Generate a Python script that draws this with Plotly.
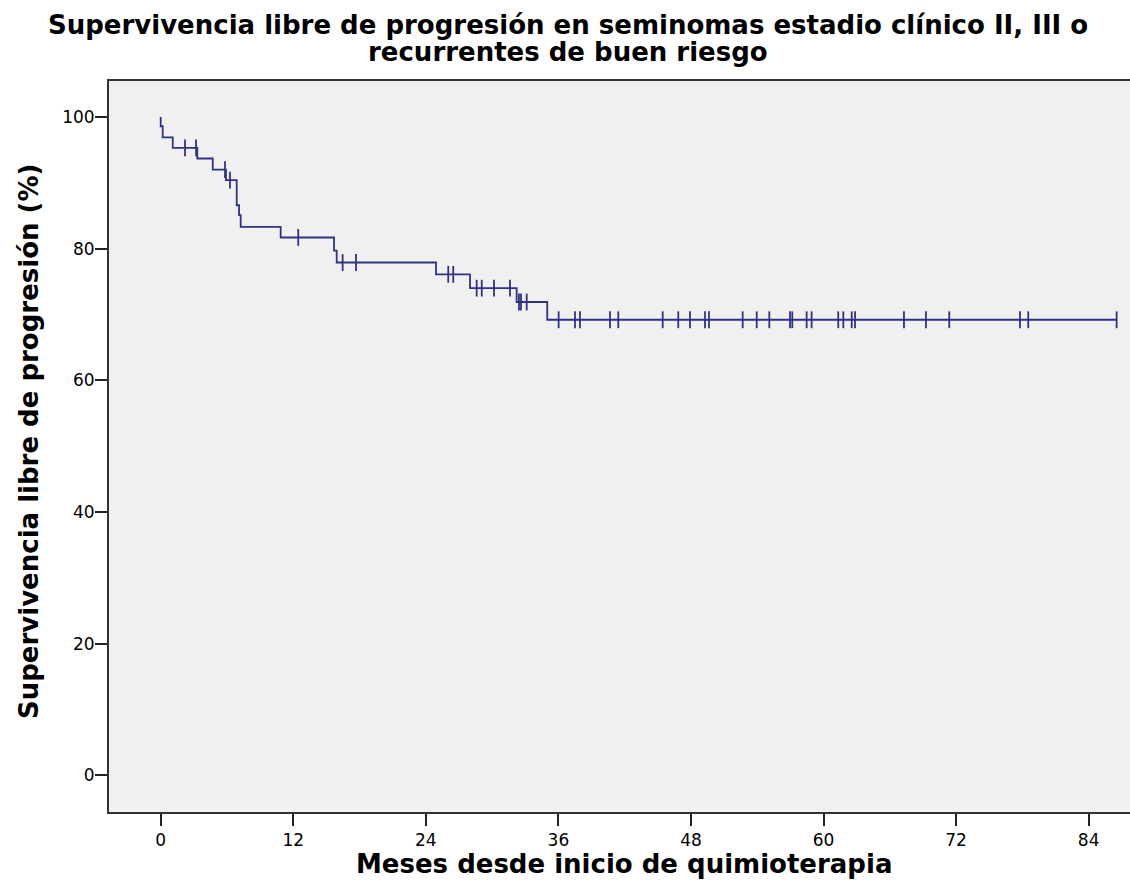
import plotly.graph_objects as go

# Kaplan-Meier step data: months at which an event occurs and survival (%) right after it
event_months = [0.0, 0.18, 1.09, 3.31, 4.71, 5.91, 6.88, 7.09, 7.24, 10.86,
                15.69, 15.93, 24.92, 28.0, 32.22, 34.99]
survival_pct = [98.6, 96.9, 95.3, 93.7, 92.0, 90.4, 86.6, 85.1, 83.3, 81.7,
                79.7, 77.9, 76.1, 74.0, 71.9, 69.2]

# Censored observations (months)
censored_months = [2.2, 3.2, 5.82, 6.27, 12.45, 16.47, 17.68, 26.03, 26.48,
                   28.6, 29.06, 30.17, 31.62, 32.43, 32.61, 33.13, 36.02, 37.5,
                   37.95, 40.67, 41.42, 45.44, 46.85, 47.91, 49.27, 49.63, 52.68,
                   53.95, 55.09, 56.96, 57.17, 58.47, 58.92, 61.33, 61.79, 62.55,
                   62.85, 67.28, 69.27, 71.38, 77.78, 78.53, 86.53]

x_ticks = [0, 12, 24, 36, 48, 60, 72, 84]
y_ticks = [0, 20, 40, 60, 80, 100]

title_lines = ["Supervivencia libre de progresión en seminomas estadio clínico II, III o",
               "recurrentes de buen riesgo"]
x_title = "Meses desde inicio de quimioterapia"
y_title = "Supervivencia libre de progresión (%)"

curve_color = "#2f3284"
font_family = "DejaVu Sans"
W, H = 1130, 894
M_L, M_R, M_T, M_B = 109, 0, 81, 82
plot_w = W - M_L - M_R
plot_h = H - M_T - M_B

# step curve points
step_x = [0.0] + event_months + [max(censored_months)]
step_y = [100.0] + survival_pct + [survival_pct[-1]]


def survival_at(t):
    s = 100.0
    for et, sv in zip(event_months, survival_pct):
        if et <= t:
            s = sv
    return s


censor_y = [survival_at(t) for t in censored_months]

fig = go.Figure()
fig.add_trace(go.Scatter(
    x=step_x, y=step_y, mode="lines", line_shape="hv",
    line=dict(color=curve_color, width=1.8), hoverinfo="skip", showlegend=False,
))
fig.add_trace(go.Scatter(
    x=censored_months, y=censor_y, mode="markers",
    marker=dict(symbol="line-ns", size=12, line=dict(color=curve_color, width=1.8)),
    showlegend=False,
))


def px_to_paper(px, py):
    return (px - M_L) / plot_w, 1 - (py - M_T) / plot_h


# two-line title, centred on the page
for line, cy in zip(title_lines, [25, 52]):
    ax, ay = px_to_paper(W / 2 + 3, cy)
    fig.add_annotation(
        text=line, xref="paper", yref="paper", x=ax, y=ay,
        xanchor="center", yanchor="middle", showarrow=False,
        font=dict(family=font_family, size=26, color="black", weight="bold"),
    )

# axis titles
ax, ay = px_to_paper((M_L + W) / 2 + 4, 864)
fig.add_annotation(
    text=x_title, xref="paper", yref="paper", x=ax, y=ay,
    xanchor="center", yanchor="middle", showarrow=False,
    font=dict(family=font_family, size=26, color="black", weight="bold"),
)
ax, ay = px_to_paper(29, 442)
fig.add_annotation(
    text=y_title, xref="paper", yref="paper", x=ax, y=ay, textangle=-90,
    xanchor="center", yanchor="middle", showarrow=False,
    font=dict(family=font_family, size=26, color="black", weight="bold"),
)

fig.update_layout(
    width=W, height=H,
    margin=dict(l=M_L, r=M_R, t=M_T, b=M_B),
    paper_bgcolor="white",
    plot_bgcolor="#f0f0f0",
    xaxis=dict(
        range=[-4.68, 87.74], tickvals=x_ticks, ticktext=[str(v) for v in x_ticks],
        showgrid=False, zeroline=False,
        showline=True, linecolor="#333", linewidth=2, mirror=True,
        ticks="outside", ticklen=12, tickwidth=1.5, tickcolor="#222",
        tickfont=dict(family=font_family, size=17, color="black"),
    ),
    yaxis=dict(
        range=[-5.57, 105.47], tickvals=y_ticks, ticktext=[str(v) for v in y_ticks],
        showgrid=False, zeroline=False,
        showline=True, linecolor="#333", linewidth=2, mirror=False,
        ticks="outside", ticklen=12, tickwidth=1.5, tickcolor="#222",
        ticklabelstandoff=-3,
        tickfont=dict(family=font_family, size=17, color="black"),
    ),
)

fig.write_html("out.html")
